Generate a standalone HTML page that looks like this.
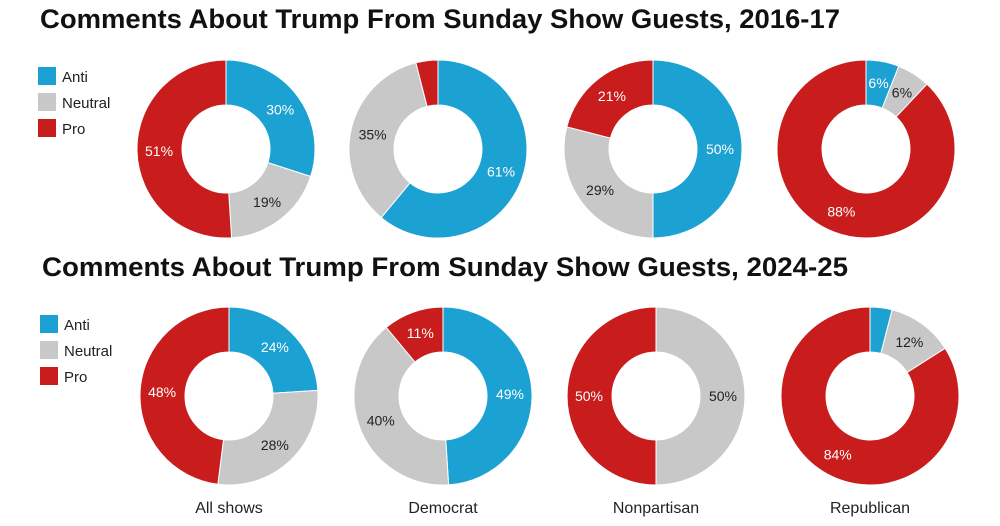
<!DOCTYPE html>
<html><head><meta charset="utf-8"><style>
body{margin:0;background:#fff;width:1000px;height:521px;overflow:hidden;font-family:"Liberation Sans",sans-serif}
</style></head><body>
<svg width="1000" height="521">
<text x="40" y="28" font-size="27" font-weight="bold" fill="#111" textLength="800" lengthAdjust="spacingAndGlyphs">Comments About Trump From Sunday Show Guests, 2016-17</text>
<text x="42" y="276" font-size="27" font-weight="bold" fill="#111" textLength="806" lengthAdjust="spacingAndGlyphs">Comments About Trump From Sunday Show Guests, 2024-25</text>
<g id="g"></g>
</svg>
<script>
const categories=["Anti","Neutral","Pro"];
const groups=["All shows","Democrat","Nonpartisan","Republican"];
const values2016=[[30,19,51],[61,35,4],[50,29,21],[6,6,88]];
const values2025=[[24,28,48],[49,40,11],[0,50,50],[4,12,84]];
const hideLabel2016=[[0,0,0],[0,0,1],[0,0,0],[0,0,0]];
const hideLabel2025=[[0,0,0],[0,0,0],[1,0,0],[1,0,0]];
const colors=["#1ba1d2","#c8c8c8","#c91c1c"];
const textCol=["#fff","#222","#fff"];
const NS="http://www.w3.org/2000/svg";
const g=document.getElementById('g');
function mk(t,a){const e=document.createElementNS(NS,t);for(const k in a)e.setAttribute(k,a[k]);g.appendChild(e);return e;}
function pt(cx,cy,r,f){const a=f*2*Math.PI;return [cx+r*Math.sin(a),cy-r*Math.cos(a)];}
function donut(cx,cy,vals,hide,row,gi){
  const R=89,r=44,tot=vals.reduce((a,b)=>a+b,0);let acc=0;
  vals.forEach((v,i)=>{
    if(v<=0)return;
    const f0=acc/tot,f1=(acc+v)/tot;acc+=v;
    const large=(f1-f0)>0.5?1:0;
    const [x0,y0]=pt(cx,cy,R,f0),[x1,y1]=pt(cx,cy,R,f1),[x2,y2]=pt(cx,cy,r,f1),[x3,y3]=pt(cx,cy,r,f0);
    let d;
    if(f1-f0>=0.999){d=`M${cx},${cy-R}A${R},${R} 0 1 1 ${cx-0.01},${cy-R}M${cx},${cy-r}A${r},${r} 0 1 0 ${cx-0.01},${cy-r}Z`;}
    else d=`M${x0},${y0}A${R},${R} 0 ${large} 1 ${x1},${y1}L${x2},${y2}A${r},${r} 0 ${large} 0 ${x3},${y3}Z`;
    const p=mk('path',{d:d,fill:colors[i],stroke:'#fff','stroke-width':1,'fill-rule':'evenodd'});
    
    
    if(!hide[i]){
      const [lx,ly]=pt(cx,cy,67,(f0+f1)/2);
      const t=mk('text',{x:lx,y:ly+5,'text-anchor':'middle','font-size':14,fill:textCol[i]});
      t.textContent=v+'%';
      
      
    }
  });
}
const cx16=[226,438,653,866],cx25=[229,443,656,870];
groups.forEach((n,i)=>{donut(cx16[i],149,values2016[i],hideLabel2016[i],'2016',i);donut(cx25[i],396,values2025[i],hideLabel2025[i],'2024',i);
  const t=mk('text',{x:cx25[i],y:513,'text-anchor':'middle','font-size':16,fill:'#222'});t.textContent=n;
  
  
});
[[67,40],[315,42]].forEach(([y0,x],li)=>{
  categories.forEach((c,i)=>{
    const rc=mk('rect',{x:x-2,y:y0+i*26,width:18,height:18,fill:colors[i]});
    
    
    const t=mk('text',{x:x+22,y:y0+i*26+15,'font-size':15,fill:'#222'});t.textContent=c;
    
    
  });
});
</script>
</body></html>
